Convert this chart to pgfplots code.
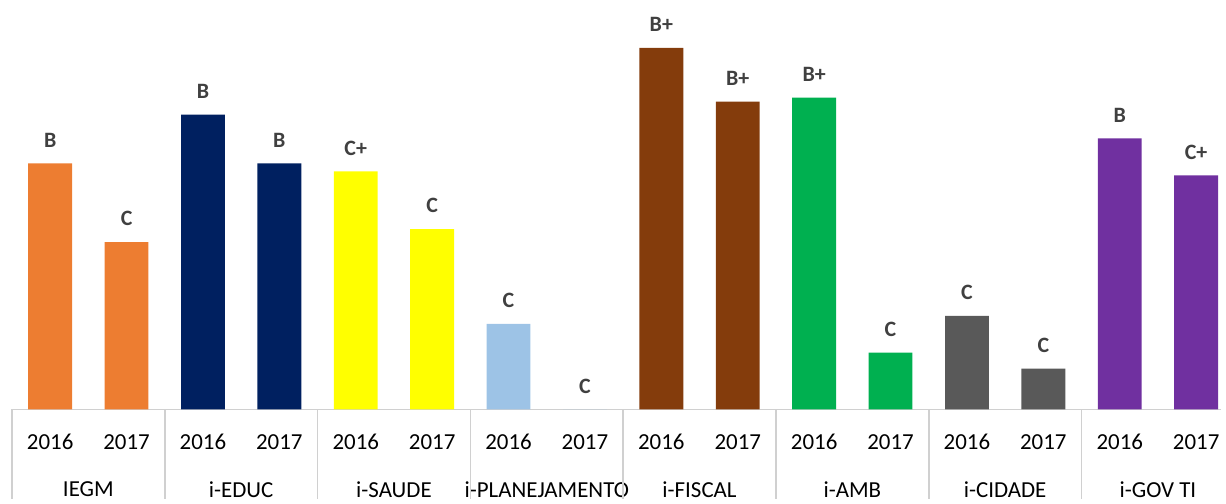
\documentclass[border=0pt]{standalone}
\usepackage{pgfplots}
\pgfplotsset{compat=1.18}
\usepackage{fontspec}
\setmainfont{Carlito}
\definecolor{cOrange}{HTML}{ED7D31}
\definecolor{cNavy}{HTML}{002060}
\definecolor{cYellow}{HTML}{FFFF00}
\definecolor{cLBlue}{HTML}{9DC3E6}
\definecolor{cBrown}{HTML}{843C0C}
\definecolor{cGreen}{HTML}{00B050}
\definecolor{cGray}{HTML}{595959}
\definecolor{cPurple}{HTML}{7030A0}
\definecolor{cLabel}{HTML}{404040}
\definecolor{cGrid}{HTML}{D0D0D0}
\pgfplotsset{mybar/.style={ybar, bar shift=0pt, bar width=0.574, draw=none, fill=#1}}
\begin{document}
\begin{tikzpicture}
\begin{axis}[
  scale only axis, width=607pt, height=205.5pt,
  xmin=-0.5, xmax=15.33, ymin=0, ymax=411,
  axis x line*=bottom, axis y line=none,
  x axis line style={draw=cGrid, line width=0.8pt},
  ytick=\empty,
  xtick={0,...,15},
  xticklabels={2016,2017,2016,2017,2016,2017,2016,2017,2016,2017,2016,2017,2016,2017,2016,2017},
  major tick length=0pt,
  x tick label style={font=\fontsize{11.5}{13}\selectfont, yshift=-9pt, text=black},
  extra x ticks={0.5,2.5,4.5,6.5,8.5,10.5,12.5,14.5},
  extra x tick labels={IEGM,i-EDUC,i-SAUDE,i-PLANEJAMENTO,i-FISCAL,i-AMB,i-CIDADE,i-GOV TI},
  extra x tick style={tick label style={yshift=-23.5pt}, major tick length=0pt},
  clip=false,
  nodes near coords,
  point meta=explicit symbolic,
  every node near coord/.append style={font=\bfseries\fontsize{11}{13}\selectfont, text=cLabel, anchor=south, yshift=4.5pt},
]
\addplot[mybar=cOrange] coordinates {(0,247) [B] (1,168) [C]};
\addplot[mybar=cNavy] coordinates {(2,296) [B] (3,247) [B]};
\addplot[mybar=cYellow] coordinates {(4,239) [C+] (5,181) [C]};
\addplot[mybar=cLBlue] coordinates {(6,86) [C] (7,0) [C]};
\addplot[mybar=cBrown] coordinates {(8,363) [B+] (9,309) [B+]};
\addplot[mybar=cGreen] coordinates {(10,313) [B+] (11,57) [C]};
\addplot[mybar=cGray] coordinates {(12,94) [C] (13,41) [C]};
\addplot[mybar=cPurple] coordinates {(14,272) [B] (15,235) [C+]};
\foreach \xx in {-0.5,1.5,3.5,5.5,7.5,9.5,11.5,13.5} {
  \edef\temp{\noexpand\draw[cGrid, line width=0.8pt] (axis cs:\xx,0) -- ([yshift=-45pt]axis cs:\xx,0);}
  \temp
}
\path ([xshift=-6pt, yshift=-45.25pt]axis cs:-0.5,0) rectangle (axis cs:15.33,411);
\end{axis}
\end{tikzpicture}
\end{document}
